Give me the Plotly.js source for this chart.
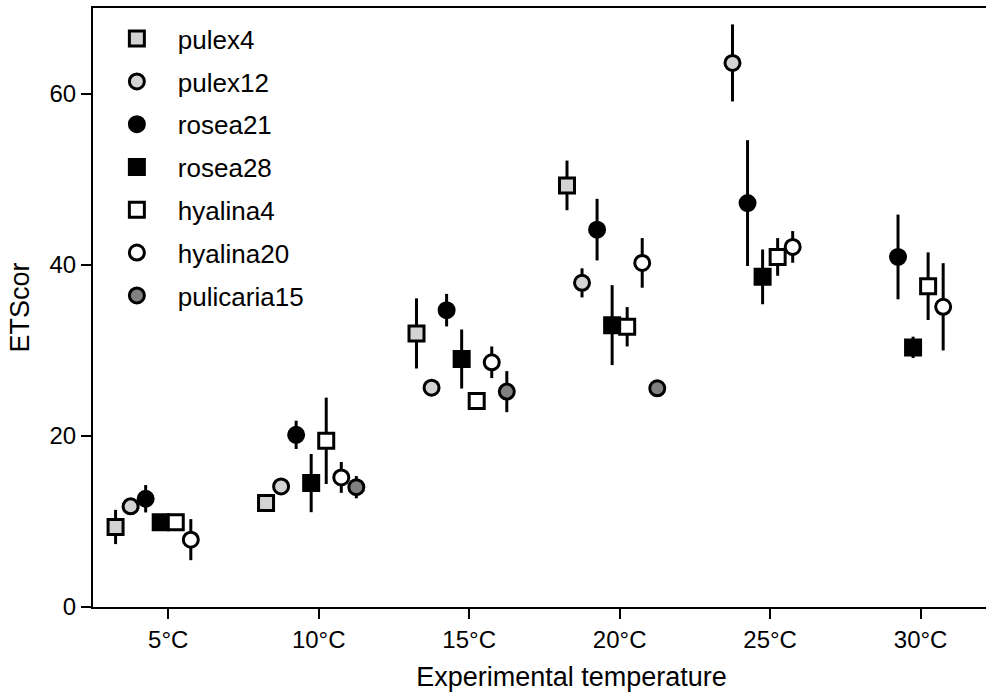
<!DOCTYPE html>
<html>
<head>
<meta charset="utf-8">
<script src="https://cdn.plot.ly/plotly-3.0.1.min.js"></script>
<style>
  html, body { margin: 0; padding: 0; overflow: hidden; background: #fff; }
  #chart { width: 1060px; height: 694px; }
</style>
</head>
<body>
<div id="chart"></div>
<script>
// Experimental temperatures (°C) and their tick labels
const temperatures = [5, 10, 15, 20, 25, 30];
const tickLabels = ['5°C', '10°C', '15°C', '20°C', '25°C', '30°C'];

// Clone names, in legend order
const clones = ['pulex4', 'pulex12', 'rosea21', 'rosea28', 'hyalina4', 'hyalina20', 'pulicaria15'];

// Mean ETScor per clone at each temperature (null = not measured)
const pulex4 = [9.35, 12.15, 31.97, 49.27, null, null];
const pulex12 = [11.76, 14.09, 25.63, 37.88, 63.58, null];
const rosea21 = [12.65, 20.12, 34.69, 44.10, 47.20, 40.91];
const rosea28 = [9.90, 14.48, 28.98, 32.94, 38.58, 30.34];
const hyalina4 = [9.90, 19.42, 24.08, 32.75, 40.91, 37.49];
const hyalina20 = [7.87, 15.14, 28.60, 40.21, 42.08, 35.08];
const pulicaria15 = [null, 14.00, 25.17, 25.56, null, null];

// Error half-widths
const pulex4Err = [2.0, 0.7, 4.1, 2.9, null, null];
const pulex12Err = [0.7, 0.7, 0.7, 1.7, 4.5, null];
const rosea21Err = [1.6, 1.65, 1.9, 3.6, 7.35, 4.95];
const rosea28Err = [0.6, 3.4, 3.45, 4.67, 3.2, 1.25];
const hyalina4Err = [0.6, 5.05, 0.7, 2.3, 2.2, 3.95];
const hyalina20Err = [2.4, 1.8, 1.85, 2.9, 1.85, 5.1];
const pulicaria15Err = [null, 1.3, 2.4, 0.7, null, null];

const means = [pulex4, pulex12, rosea21, rosea28, hyalina4, hyalina20, pulicaria15];
const errors = [pulex4Err, pulex12Err, rosea21Err, rosea28Err, hyalina4Err, hyalina20Err, pulicaria15Err];

// Marker styling per clone
const symbols = ['square', 'circle', 'circle', 'square', 'square', 'circle', 'circle'];
const fills = ['#d3d3d3', '#d3d3d3', '#000000', '#000000', '#ffffff', '#ffffff', '#808080'];

// Clones are dodged side by side around each temperature
const dodgeStep = 0.5;
const dodgeStart = -1.75;

const traces = clones.map((name, i) => ({
  type: 'scatter',
  mode: 'markers',
  name: name,
  legendgroup: name,
  x: temperatures.map(t => t + dodgeStart + i * dodgeStep),
  y: means[i],
  error_y: {
    type: 'data',
    symmetric: true,
    array: errors[i],
    width: 0,
    thickness: 3,
    color: '#000'
  },
  marker: {
    symbol: symbols[i],
    size: 15,
    color: fills[i],
    line: { color: '#000', width: 3 }
  },
  cliponaxis: false,
  hoverinfo: 'x+y'
}));

const family = 'Liberation Sans, Arial, sans-serif';
const tickFont = { family: family, size: 24, color: '#000' };
const legendFont = { family: family, size: 26, color: '#000' };
const titleFont = { family: family, size: 27, color: '#000' };

const layout = {
  width: 1060,
  height: 694,
  margin: { l: 93, r: 10, t: 8, b: 87 },
  paper_bgcolor: '#fff',
  plot_bgcolor: '#fff',
  font: legendFont,
  showlegend: true,
  legend: {
    x: 0.003,
    y: 0.988,
    xanchor: 'left',
    yanchor: 'top',
    bgcolor: 'rgba(0,0,0,0)',
    traceorder: 'grouped',
    tracegroupgap: 6,
    itemwidth: 72,
    font: legendFont
  },
  xaxis: {
    range: [2.5, 34.3],
    tickvals: temperatures,
    ticktext: tickLabels,
    ticks: 'outside',
    ticklen: 10,
    tickwidth: 2,
    tickcolor: '#000',
    showline: true,
    linewidth: 2,
    linecolor: '#000',
    mirror: true,
    showgrid: false,
    zeroline: false,
    tickfont: tickFont,
    title: { text: 'Experimental temperature', font: titleFont, standoff: 15 }
  },
  yaxis: {
    range: [0, 70],
    tickvals: [0, 20, 40, 60],
    ticks: 'outside',
    ticklen: 10,
    tickwidth: 2,
    tickcolor: '#000',
    showline: true,
    linewidth: 2,
    linecolor: '#000',
    mirror: true,
    showgrid: false,
    zeroline: false,
    tickfont: tickFont,
    title: { text: 'ETScor', font: titleFont, standoff: 12 }
  }
};

Plotly.newPlot('chart', traces, layout, { displayModeBar: false, staticPlot: true });
</script>
</body>
</html>
